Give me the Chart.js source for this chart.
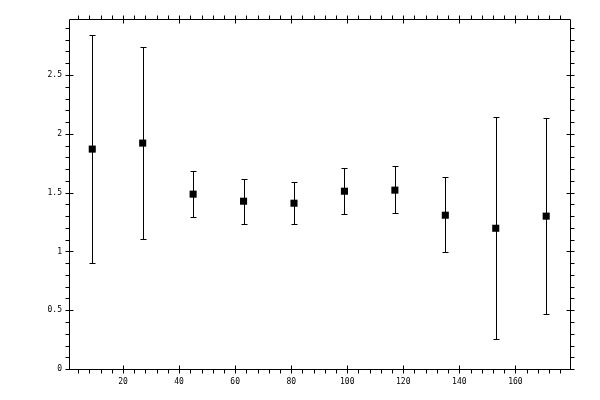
<!DOCTYPE html>
<html>
<head>
<meta charset="utf-8">
<script src="https://cdn.jsdelivr.net/npm/chart.js@4/dist/chart.umd.min.js"></script>
<style>
html,body{margin:0;padding:0;background:#fff;}
canvas{display:block;}
</style>
</head>
<body>
<canvas id="c" width="600" height="400"></canvas>
<script>
const xValues = [9, 27, 45, 63, 81, 99, 117, 135, 153, 171];
const yValues = [1.870, 1.921, 1.487, 1.427, 1.410, 1.512, 1.521, 1.308, 1.197, 1.300];
const yUpper  = [2.840, 2.738, 1.688, 1.614, 1.589, 1.708, 1.725, 1.631, 2.142, 2.134];
const yLower  = [0.900, 1.104, 1.291, 1.231, 1.231, 1.317, 1.325, 0.993, 0.253, 0.466];
const xTickLabels = [20, 40, 60, 80, 100, 120, 140, 160];
const yTickLabels = [0, 0.5, 1, 1.5, 2, 2.5];
const xMinorStep = 4;
const yMinorStep = 0.1;

const errorBars = {
  id: 'errorBars',
  beforeDatasetsDraw(chart) {
    const {ctx, scales: {x, y}} = chart;
    ctx.save();
    ctx.strokeStyle = '#000';
    ctx.lineWidth = 1;
    ctx.beginPath();
    xValues.forEach((xv, i) => {
      const px = Math.round(x.getPixelForValue(xv)) + 0.5;
      const pt = Math.round(y.getPixelForValue(yUpper[i])) + 0.5;
      const pb = Math.round(y.getPixelForValue(yLower[i])) + 0.5;
      ctx.moveTo(px, pt); ctx.lineTo(px, pb);
      ctx.moveTo(px - 3, pt); ctx.lineTo(px + 3, pt);
      ctx.moveTo(px - 3, pb); ctx.lineTo(px + 3, pb);
    });
    ctx.stroke();
    ctx.restore();
  }
};

const frameTicks = {
  id: 'frameTicks',
  afterDraw(chart) {
    const {ctx, chartArea: a, scales: {x, y}} = chart;
    const L = Math.round(a.left) + 0.5, R = Math.round(a.right) + 0.5;
    const T = Math.round(a.top) + 0.5, B = Math.round(a.bottom) - 0.5;
    ctx.save();
    ctx.strokeStyle = '#000';
    ctx.lineWidth = 1;
    ctx.beginPath();
    ctx.rect(L, T, R - L, B - T);
    // x ticks
    for (let v = xMinorStep; v <= x.max + 1e-9; v += xMinorStep) {
      if (v < x.min) continue;
      const px = Math.round(x.getPixelForValue(v)) + 0.5;
      const major = xTickLabels.some(t => Math.abs(t - v) < 1e-6);
      ctx.moveTo(px, B + 4); ctx.lineTo(px, major ? B - 4 : B);
      ctx.moveTo(px, T - 4); ctx.lineTo(px, major ? T + 4 : T);
    }
    // y ticks
    for (let k = 0; k * yMinorStep <= y.max + 1e-9; k++) {
      const v = k * yMinorStep;
      if (v < y.min) continue;
      const py = Math.round(y.getPixelForValue(v)) + 0.5;
      const major = yTickLabels.some(t => Math.abs(t - v) < 1e-6);
      ctx.moveTo(L - 4, py); ctx.lineTo(major ? L + 4 : L, py);
      ctx.moveTo(R + 4, py); ctx.lineTo(major ? R - 4 : R, py);
    }
    ctx.stroke();
    ctx.restore();
  }
};

const font = {family: '"DejaVu Sans Mono", monospace', size: 8};

new Chart(document.getElementById('c'), {
  type: 'scatter',
  data: {
    datasets: [{
      data: xValues.map((xv, i) => ({x: xv, y: yValues[i]})),
      pointStyle: 'rect',
      pointRadius: 5,
      pointHoverRadius: 5,
      backgroundColor: '#000',
      borderColor: '#000',
      borderWidth: 0
    }]
  },
  options: {
    responsive: false,
    animation: false,
    devicePixelRatio: 1,
    layout: {padding: {top: 19, right: 30, left: 0, bottom: 0}},
    plugins: {legend: {display: false}, tooltip: {enabled: false}},
    events: [],
    scales: {
      x: {
        type: 'linear',
        min: 0.7,
        max: 179.5,
        grid: {display: false, drawTicks: false},
        border: {display: false},
        afterBuildTicks: s => { s.ticks = xTickLabels.map(v => ({value: v})); },
        afterFit: s => { s.height = 30; },
        ticks: {font, color: '#000', padding: 7, maxRotation: 0, autoSkip: false,
                callback: v => String(v)}
      },
      y: {
        type: 'linear',
        min: -0.008,
        max: 2.976,
        grid: {display: false, drawTicks: false},
        border: {display: false},
        afterBuildTicks: s => { s.ticks = yTickLabels.map(v => ({value: v})); },
        afterFit: s => { s.width = 69; },
        ticks: {font, color: '#000', padding: 7, autoSkip: false,
                callback: v => String(v)}
      }
    }
  },
  plugins: [errorBars, frameTicks]
});
</script>
</body>
</html>
